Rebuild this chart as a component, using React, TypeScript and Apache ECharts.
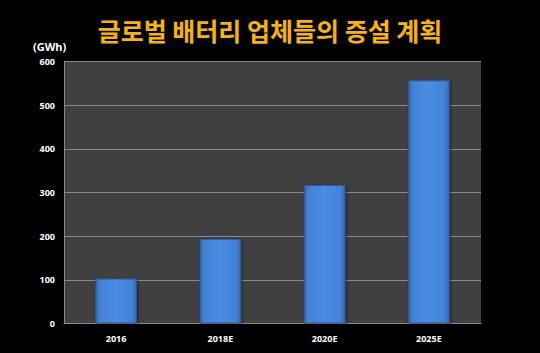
import React, { useEffect, useRef } from "react";
import * as echarts from "echarts";

const categories = ["2016", "2018E", "2020E", "2025E"];
const values = [103, 194, 317, 557];
const titleText = "글로벌 배터리 업체들의 증설 계획";
const unitText = "(GWh)";

export default function App() {
  const ref = useRef<HTMLDivElement>(null);
  useEffect(() => {
    document.body.style.margin = "0";
    document.body.style.background = "#000";
    const chart = echarts.init(ref.current!, null, { renderer: "svg" });
    const barColor = new echarts.graphic.LinearGradient(0, 0, 1, 0, [
      { offset: 0, color: "#3466ad" },
      { offset: 0.1, color: "#4282d6" },
      { offset: 0.5, color: "#4a8de2" },
      { offset: 0.9, color: "#4282d6" },
      { offset: 1, color: "#3466ad" },
    ]);
    chart.setOption({
      animation: false,
      backgroundColor: "#000000",
      title: {
        text: titleText,
        left: "center",
        top: 12,
        textStyle: {
          color: "#f7b500",
          fontSize: 25,
          fontWeight: "bold",
          fontFamily: "'Noto Sans CJK KR', sans-serif",
        },
      },
      graphic: [
        {
          type: "text",
          left: 33,
          top: 41,
          style: {
            text: unitText,
            fill: "#ffffff",
            font: "bold 11px 'Noto Sans', sans-serif",
          },
        },
      ],
      grid: {
        left: 64,
        right: 59,
        top: 61.5,
        bottom: 29.5,
        show: true,
        backgroundColor: "#404040",
        borderWidth: 0,
      },
      xAxis: {
        type: "category",
        data: categories,
        axisLine: { show: true, lineStyle: { color: "#8a8a8a", width: 1 } },
        axisTick: { show: false },
        axisLabel: {
          color: "#ffffff",
          fontSize: 9,
          fontWeight: "bold",
          fontFamily: "'Noto Sans', sans-serif",
          margin: 10,
        },
      },
      yAxis: {
        type: "value",
        min: 0,
        max: 600,
        interval: 100,
        axisLine: { show: true, lineStyle: { color: "#8a8a8a", width: 1 } },
        axisTick: { show: false },
        splitLine: { show: true, lineStyle: { color: "#8a8a8a", width: 1 } },
        axisLabel: {
          color: "#ffffff",
          fontSize: 9,
          fontWeight: "bold",
          fontFamily: "'Noto Sans', sans-serif",
          margin: 9,
        },
      },
      series: [
        {
          type: "bar",
          data: values,
          barWidth: "40%",
          itemStyle: {
            color: barColor,
            borderColor: "#2d5a96",
            borderWidth: 1,
            shadowColor: "rgba(0,0,0,0.5)",
            shadowBlur: 3,
            shadowOffsetX: 1,
            shadowOffsetY: 1,
          },
        },
      ],
    });
    return () => chart.dispose();
  }, []);
  return (
    <div
      ref={ref}
      style={{ position: "fixed", left: 0, top: 0, width: 540, height: 353 }}
    />
  );
}
